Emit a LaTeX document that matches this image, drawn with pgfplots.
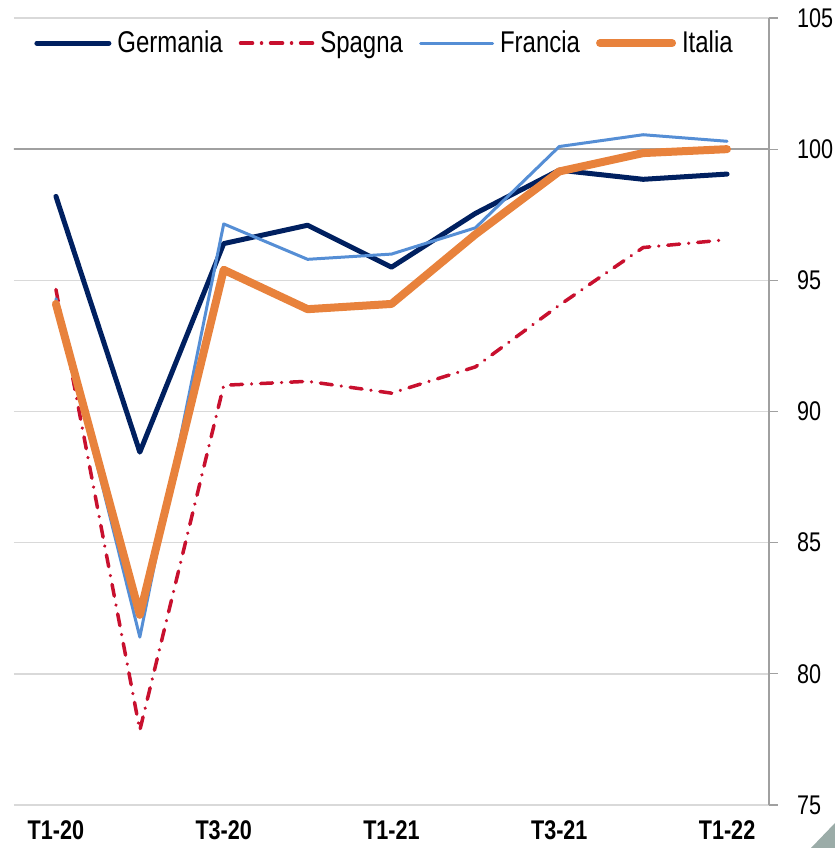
\documentclass[border=0pt]{standalone}
\usepackage{pgfplots}
\pgfplotsset{compat=1.18}
\usepackage{fontspec}
\setmainfont{Liberation Sans}[FakeStretch=0.8]
\usetikzlibrary{calc}
\definecolor{ger}{HTML}{002060}
\definecolor{spa}{HTML}{C8102E}
\definecolor{fra}{HTML}{558ED5}
\definecolor{ita}{HTML}{E8823C}
\definecolor{gridgrey}{RGB}{217,217,217}
\definecolor{axgrey}{RGB}{160,160,160}
\definecolor{cornergrey}{RGB}{155,172,168}
\begin{document}
\begin{tikzpicture}
\begin{axis}[name=ax,
  width=377.5pt, height=393.5pt, scale only axis,
  xmin=-0.5, xmax=8.5, ymin=75, ymax=105,
  axis y line*=right, axis x line*=bottom,
  x axis line style={draw=gridgrey, line width=0.75pt},
  y axis line style={draw=axgrey, line width=0.6pt},
  xtick={0,2,4,6,8},
  xticklabels={T1-20,T3-20,T1-21,T3-21,T1-22},
  xtick style={draw=none},
  ytick={75,80,85,90,95,100,105},
  ytick style={draw=axgrey, line width=0.6pt},
  tick align=outside, major tick length=4.5pt,
  /pgf/number format/assume math mode=true,
  ymajorgrids, grid style={gridgrey, line width=0.75pt},
  xticklabel style={font=\fontsize{13.5}{16}\selectfont\bfseries},
  yticklabel style={font=\fontsize{13.5}{16}\selectfont, anchor=west, xshift=6pt},
  legend columns=4,
  legend style={draw=none, fill=none, at={(0,0.968)}, anchor=west, xshift=10pt,
    inner sep=0pt, font=\fontsize{15}{18}\selectfont,
    /tikz/every odd column/.append style={column sep=1pt},
    /tikz/every even column/.append style={column sep=6pt}},
  legend image code/.code={\draw[#1] (0pt,0pt) -- (36pt,0pt);},
  every axis plot/.append style={line cap=round, line join=round},
]
\addplot[axgrey, line width=0.75pt, forget plot] coordinates {(-0.5,100) (8.5,100)};
\addplot[ger, line width=2.5pt] coordinates {
 (0,98.2) (1,88.45) (2,96.4) (3,97.1) (4,95.5) (5,97.55) (6,99.2) (7,98.85) (8,99.05)};
\addlegendentry{Germania}
\addplot[spa, line width=1.75pt, dash pattern=on 6pt off 4.5pt on 0.01pt off 4.5pt] coordinates {
 (0,94.65) (1,77.85) (2,91.0) (3,91.15) (4,90.7) (5,91.7) (6,94.05) (7,96.25) (8,96.55)};
\addlegendentry{Spagna}
\addplot[fra, line width=1.5pt] coordinates {
 (0,94.3) (1,81.4) (2,97.15) (3,95.8) (4,96.0) (5,97.0) (6,100.1) (7,100.55) (8,100.3)};
\addlegendentry{Francia}
\addplot[ita, line width=4pt] coordinates {
 (0,94.1) (1,82.25) (2,95.4) (3,93.9) (4,94.1) (5,96.75) (6,99.15) (7,99.85) (8,100.0)};
\addlegendentry{Italia}
\end{axis}
\pgfresetboundingbox
\path[use as bounding box] ($(ax.south west)+(-7pt,-21.5pt)$) rectangle ($(ax.north east)+(33pt,9pt)$);
\fill[cornergrey] ($(ax.south east)+(33pt,-9pt)$) -- ($(ax.south east)+(33pt,-21.5pt)$) -- ($(ax.south east)+(21pt,-21.5pt)$) -- cycle;
\end{tikzpicture}
\end{document}
